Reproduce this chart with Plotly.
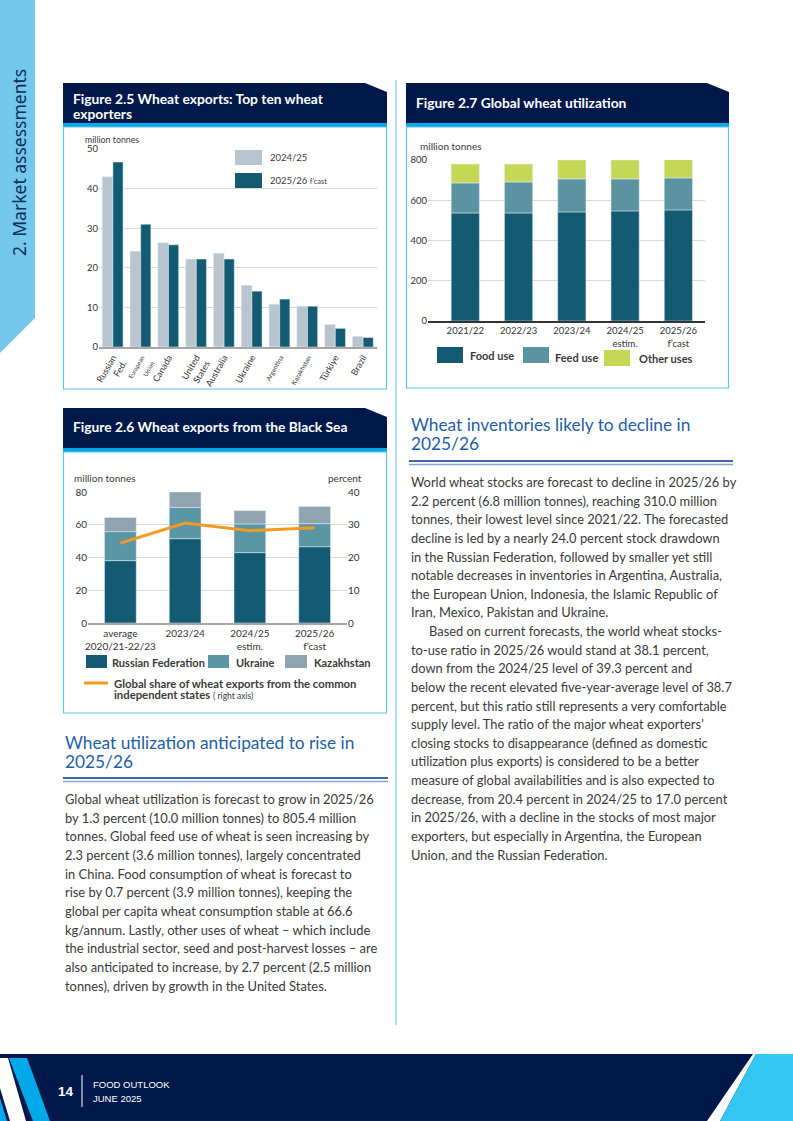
import numpy as np
import plotly.graph_objects as go

W, H = 793, 1121

# ---------------- data ----------------
exporters = ["Russian Fed.", "European Union", "Canada", "United States", "Australia",
             "Ukraine", "Argentina", "Kazakhstan", "Türkiye", "Brazil"]
exporter_labels = ["Russian<br>Fed.", "<span style='font-size:6px'>European<br>Union</span>",
                   "Canada", "United<br>States", "Australia", "Ukraine",
                   "<span style='font-size:6.5px'>Argentina</span>",
                   "<span style='font-size:6.5px'>Kazakhstan</span>", "Türkiye", "Brazil"]
exp_2024 = [43.0, 24.2, 26.3, 22.2, 23.7, 15.6, 10.8, 10.3, 5.7, 2.7]
exp_2025 = [46.7, 31.0, 25.8, 22.2, 22.2, 14.1, 12.1, 10.3, 4.7, 2.4]

bs_periods = ["average<br>2020/21-22/23", "2023/24", "2024/25<br>estim.", "2025/26<br>f’cast"]
bs_russia = [38.1, 51.5, 43.0, 46.6]
bs_ukraine = [17.7, 19.0, 17.5, 14.1]
bs_kazakh = [8.6, 9.5, 8.1, 10.4]
bs_share = [24.4, 30.5, 28.2, 29.1]

util_years = ["2021/22", "2022/23", "2023/24", "2024/25<br>estim.", "2025/26<br>f’cast"]
util_food = [537, 537, 542, 547, 552]
util_feed = [149, 154, 164, 159, 159]
util_other = [94, 89, 94, 94, 99]

left_heading = ["Wheat utilization anticipated to rise in", "2025/26"]
left_body = [
    "Global wheat utilization is forecast to grow in 2025/26",
    "by 1.3 percent (10.0 million tonnes) to 805.4 million",
    "tonnes. Global feed use of wheat is seen increasing by",
    "2.3 percent (3.6 million tonnes), largely concentrated",
    "in China. Food consumption of wheat is forecast to",
    "rise by 0.7 percent (3.9 million tonnes), keeping the",
    "global per capita wheat consumption stable at 66.6",
    "kg/annum. Lastly, other uses of wheat – which include",
    "the industrial sector, seed and post-harvest losses – are",
    "also anticipated to increase, by 2.7 percent (2.5 million",
    "tonnes), driven by growth in the United States.",
]
right_heading = ["Wheat inventories likely to decline in", "2025/26"]
right_body = [
    "World wheat stocks are forecast to decline in 2025/26 by",
    "2.2 percent (6.8 million tonnes), reaching 310.0 million",
    "tonnes, their lowest level since 2021/22. The forecasted",
    "decline is led by a nearly 24.0 percent stock drawdown",
    "in the Russian Federation, followed by smaller yet still",
    "notable decreases in inventories in Argentina, Australia,",
    "the European Union, Indonesia, the Islamic Republic of",
    "Iran, Mexico, Pakistan and Ukraine.",
    "Based on current forecasts, the world wheat stocks-",
    "to-use ratio in 2025/26 would stand at 38.1 percent,",
    "down from the 2024/25 level of 39.3 percent and",
    "below the recent elevated five-year-average level of 38.7",
    "percent, but this ratio still represents a very comfortable",
    "supply level. The ratio of the major wheat exporters’",
    "closing stocks to disappearance (defined as domestic",
    "utilization plus exports) is considered to be a better",
    "measure of global availabilities and is also expected to",
    "decrease, from 20.4 percent in 2024/25 to 17.0 percent",
    "in 2025/26, with a decline in the stocks of most major",
    "exporters, but especially in Argentina, the European",
    "Union, and the Russian Federation.",
]
right_indent_line = 8

# ---------------- styling ----------------
NAVY = "#00194a"
CYAN = "#00a9e8"
BORDER = "#5cc3ec"
DARK = "#135b73"
GREY_BAR = "#b8c5ce"
FEED = "#5b93a3"
OTHER = "#c5d856"
UKR = "#5b96a5"
KAZ = "#8fa4ae"
ORANGE = "#f39a1f"
TXT = "#3a3a3a"
HEAD_BLUE = "#1d5ea8"
FONT = "Lato"
GRID = "#d9d9d9"
AXLINE = "#a6a6a6"


def X(px):
    return px / W


def Y(py):
    return 1 - py / H


def path(points):
    return "M " + " L ".join(f"{X(a):.5f},{Y(b):.5f}" for a, b in points) + " Z"


shapes = []
annos = []


def poly(points, fill, line_color=None, line_width=0, layer="below"):
    shapes.append(dict(type="path", xref="paper", yref="paper", path=path(points),
                       fillcolor=fill, line=dict(color=line_color or fill, width=line_width),
                       layer=layer))


def rect(x0, y0, x1, y1, fill=None, line_color=None, line_width=1, layer="below"):
    shapes.append(dict(type="rect", xref="paper", yref="paper", x0=X(x0), x1=X(x1),
                       y0=Y(y1), y1=Y(y0), fillcolor=fill or "rgba(0,0,0,0)",
                       line=dict(color=line_color or "rgba(0,0,0,0)", width=line_width if line_color else 0),
                       layer=layer))


def hline(x0, x1, y, color, width, layer="above"):
    shapes.append(dict(type="line", xref="paper", yref="paper", x0=X(x0), x1=X(x1),
                       y0=Y(y), y1=Y(y), line=dict(color=color, width=width), layer=layer))


def vline(x, y0, y1, color, width, layer="below"):
    shapes.append(dict(type="line", xref="paper", yref="paper", x0=X(x), x1=X(x),
                       y0=Y(y0), y1=Y(y1), line=dict(color=color, width=width), layer=layer))


def text(x, y, s, size=10, color=TXT, anchor="left", bold=False, family=FONT, angle=0, yanchor="middle"):
    if bold:
        s = f"<b>{s}</b>"
    annos.append(dict(xref="paper", yref="paper", x=X(x), y=Y(y), text=s, showarrow=False,
                      xanchor=anchor, yanchor=yanchor, textangle=angle,
                      font=dict(size=size, color=color, family=family)))


# sidebar
poly([(0, 0), (35, 0), (35, 318), (0, 353)], "#74c8ec")
text(19, 163, "2. Market assessments", size=17.5, color="#0d2d5c", anchor="center", angle=-90,
     family="Noto Sans")

# column divider
vline(396, 80, 1025, "#8fd3f0", 1.5)


def figure_box(x0, x1, ytop, ybot, title_lines, title_y):
    # header with clipped top-right corner
    poly([(x0, ytop), (x1 - 22, ytop), (x1, ytop + 9), (x1, ytop + 40), (x0, ytop + 40)], NAVY)
    rect(x0, ytop + 40, x1, ytop + 44, fill=CYAN)
    rect(x0 + 0.5, ytop + 44, x1 - 0.5, ybot, line_color=BORDER, line_width=1.2)
    for i, t in enumerate(title_lines):
        text(x0 + 8, title_y[i], t, size=13.8, color="white", bold=True)


figure_box(63, 387, 83, 389, ["Figure 2.5 Wheat exports: Top ten wheat", "exporters"], [98, 114])
figure_box(63, 387, 408, 713, ["Figure 2.6 Wheat exports from the Black Sea"], [426])
figure_box(406, 729, 83, 388, ["Figure 2.7 Global wheat utilization"], [103])

# ---------------- traces ----------------
fig = go.Figure()

# Figure 2.5
fig.add_trace(go.Bar(x=exporters, y=exp_2024, name="2024/25", marker_color=GREY_BAR,
                     offset=-0.385, width=0.385, xaxis="x", yaxis="y", showlegend=False))
fig.add_trace(go.Bar(x=exporters, y=exp_2025, name="2025/26 f'cast", marker_color=DARK,
                     offset=0.0, width=0.365, xaxis="x", yaxis="y", showlegend=False))

# Figure 2.6 (stacked via base)
b_r = np.zeros(len(bs_russia))
b_u = np.array(bs_russia)
b_k = b_u + np.array(bs_ukraine)
for vals, base, col, nm in [(bs_russia, b_r, DARK, "Russian Federation"),
                            (bs_ukraine, b_u, UKR, "Ukraine"),
                            (bs_kazakh, b_k, KAZ, "Kazakhstan")]:
    fig.add_trace(go.Bar(x=bs_periods, y=vals, base=base, name=nm, marker_color=col,
                         width=0.49, offset=-0.245, xaxis="x2", yaxis="y2", showlegend=False))
fig.add_trace(go.Scatter(x=bs_periods, y=bs_share, mode="lines", line=dict(color=ORANGE, width=3),
                         xaxis="x2", yaxis="y3", showlegend=False, name="Global share"))

# Figure 2.7
c_f = np.zeros(len(util_food))
c_d = np.array(util_food)
c_o = c_d + np.array(util_feed)
for vals, base, col, nm in [(util_food, c_f, DARK, "Food use"),
                            (util_feed, c_d, FEED, "Feed use"),
                            (util_other, c_o, OTHER, "Other uses")]:
    fig.add_trace(go.Bar(x=util_years, y=vals, base=base, name=nm, marker_color=col,
                         width=0.53, offset=-0.265, xaxis="x3", yaxis="y4", showlegend=False))

tickf = dict(size=9.5, color="#333333", family=FONT)
tickf2 = dict(size=10, color="#333333", family=FONT)

layout_axes = dict(
    xaxis=dict(domain=[X(99), X(377)], anchor="y", tickvals=exporters, ticktext=exporter_labels,
               tickangle=-60, tickfont=dict(size=9, color="#333333", family=FONT),
               showline=True, linecolor=AXLINE, linewidth=1.5, showgrid=False, ticks="",
               range=[-0.5, 9.5], automargin=False),
    yaxis=dict(domain=[Y(347), Y(149)], range=[0, 50], dtick=10, gridcolor=GRID, gridwidth=1.3,
               zeroline=False, tickfont=tickf, ticks="", showline=False, automargin=False),
    xaxis2=dict(domain=[X(88), X(347)], anchor="y2", tickfont=tickf2,
                showline=True, linecolor=AXLINE, linewidth=1.5, showgrid=False, ticks="",
                range=[-0.5, 3.5], automargin=False),
    yaxis2=dict(domain=[Y(623), Y(492)], range=[0, 80], dtick=20, gridcolor=GRID, gridwidth=1.3,
                zeroline=False, tickfont=tickf2, ticks="", showline=False, anchor="x2",
                automargin=False),
    yaxis3=dict(domain=[Y(623), Y(492)], range=[0, 40], dtick=10, overlaying="y2", side="right",
                showgrid=False, zeroline=False, tickfont=tickf2, ticks="", anchor="x2",
                automargin=False),
    xaxis3=dict(domain=[X(428), X(705)], anchor="y4", tickfont=tickf,
                showline=True, linecolor="#333333", linewidth=1.5, showgrid=False, ticks="",
                range=[-0.7, 4.5], automargin=False),
    yaxis4=dict(domain=[Y(321), Y(160)], range=[0, 800], dtick=200, gridcolor=GRID, gridwidth=1.3,
                zeroline=False, tickfont=tickf, ticks="", showline=False, anchor="x3",
                automargin=False),
)

# axis titles (units)
text(83, 139, "million tonnes", size=8.8)
text(72, 478, "million tonnes", size=10)
text(364, 478, "percent", size=10, anchor="right")
text(418, 146, "million tonnes", size=10)

# legend 2.5
rect(235, 150, 262, 165, fill=GREY_BAR, layer="above")
text(268, 158, "2024/25", size=9.5)
rect(235, 173, 262, 188, fill=DARK, layer="above")
text(268, 180.5, "2025/26 <span style='font-size:7.5px'>f’cast</span>", size=9.5)

# legend 2.6
rect(86, 655, 107, 668, fill=DARK)
text(110, 662, "Russian Federation", size=11, bold=True)
rect(208, 655, 229, 668, fill=UKR)
text(234, 662, "Ukraine", size=11, bold=True)
rect(285, 655, 307, 668, fill=KAZ)
text(312, 662, "Kazakhstan", size=11, bold=True)
hline(84, 108, 683, ORANGE, 3)
text(112, 683, "Global share of wheat exports from the common", size=11.3, bold=True)
text(112, 694.5, "<b>independent states</b> <span style='font-size:8.5px'>( right axis)</span>", size=11.3)

# legend 2.7
rect(437, 347, 463, 363, fill=DARK)
text(468, 355, "Food use", size=11, bold=True)
rect(523, 347, 549, 363, fill=FEED)
text(553, 357, "Feed use", size=11, bold=True)
rect(604, 350, 630, 366, fill=OTHER)
text(637, 358, "Other uses", size=11, bold=True)

# section headings and rules
for i, t in enumerate(left_heading):
    text(63, 742 + i * 19.4, t, size=17.3, color=HEAD_BLUE)
hline(63, 388, 778, "#3d6aa8", 2)
hline(63, 388, 781.5, "#8aa4c8", 1.5)
for i, t in enumerate(right_heading):
    text(409, 424.5 + i * 19.4, t, size=17.3, color=HEAD_BLUE)
hline(409, 733, 461, "#3d6aa8", 2)
hline(409, 733, 464.5, "#8aa4c8", 1.5)

for i, t in enumerate(left_body):
    text(63, 799 + i * 18.67, t, size=12.9)
for i, t in enumerate(right_body):
    x0 = 427 if i == right_indent_line else 409
    text(x0, 482 + i * 18.63, t, size=12.9)

# footer
rect(0, 1054, 793, 1121, fill=NAVY)
poly([(0, 1058), (8, 1058), (26, 1121), (10, 1121), (0, 1088)], "white")
poly([(9, 1058), (27, 1058), (50, 1121), (33, 1121)], CYAN)
poly([(0, 1098), (7, 1121), (0, 1121)], CYAN)
poly([(753, 1054), (756, 1054), (720, 1121), (707, 1121)], "white")
poly([(756, 1054), (793, 1054), (793, 1121), (720, 1121)], "#34c6f2")
text(65.5, 1091, "14", size=13.5, color="white", anchor="center", bold=True, family="Liberation Sans")
vline(82, 1075, 1107, "white", 1, layer="above")
text(91, 1084, "FOOD OUTLOOK", size=9.5, color="white", family="Liberation Sans")
text(91, 1098, "JUNE 2025", size=9.5, color="white", family="Liberation Sans")

fig.update_layout(
    width=W, height=H, margin=dict(l=0, r=0, t=0, b=0, pad=0, autoexpand=False),
    paper_bgcolor="white", plot_bgcolor="rgba(0,0,0,0)",
    barmode="overlay", font=dict(family=FONT, color=TXT),
    shapes=shapes, annotations=annos, showlegend=False,
    **layout_axes,
)

fig.write_html("out.html", config={"displayModeBar": False},
               post_script="document.body.style.margin='0px';document.body.style.overflow='hidden';"
                           "document.documentElement.style.overflow='hidden';")
